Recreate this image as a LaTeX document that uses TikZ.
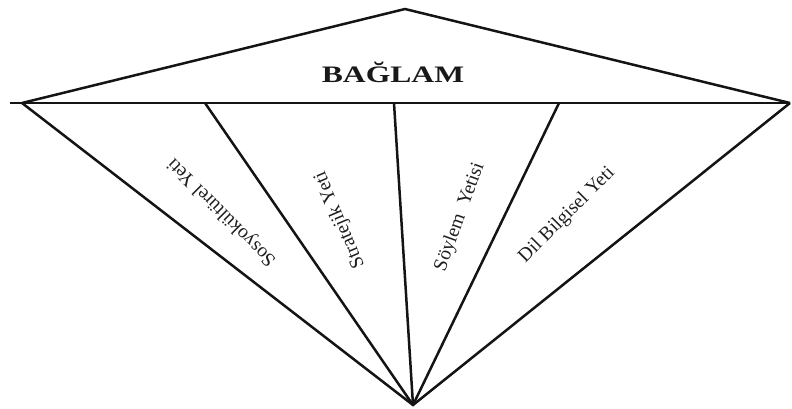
\documentclass[tikz,border=0pt]{standalone}
\usepackage{fontspec}
\setmainfont{Liberation Serif}
\begin{document}
\begin{tikzpicture}[x=1pt,y=-1pt,
  edge/.style={line width=2.5pt,line join=miter,line cap=butt,black!92},
  lbl/.style={inner sep=0pt,font=\fontsize{19.5}{20}\selectfont,text=black!88},
  title/.style={inner sep=0pt,font=\fontsize{23.6}{24}\selectfont\bfseries,text=black!90}]
\useasboundingbox (0,0) rectangle (792,409);
\coordinate (L0) at (10,103);
\coordinate (L) at (22,103);
\coordinate (R) at (790,103);
\coordinate (T) at (405,9);
\coordinate (B) at (413,405);
\coordinate (P1) at (205,103);
\coordinate (P2) at (394,103);
\coordinate (P3) at (559,103);
\draw[edge] (L0) -- (R);
\draw[edge] (L) -- (T) -- (R);
\draw[edge] (L) -- (B) -- (R);
\draw[edge] (P1) -- (B);
\draw[edge] (P2) -- (B);
\draw[edge] (P3) -- (B);
\node[title,anchor=base] (baglam) at (393,82.3) {\scalebox{1.34}[1]{BAĞLAM}};
\node[lbl,rotate=135] (sosyo) at (222,212) {Sosyokültürel Yeti};
\node[lbl,rotate=113] (strat) at (340,220) {Stratejik Yeti};
\node[lbl,rotate=70] (soylem) at (460,217) {Söylem\ \ Yetisi};
\node[lbl,rotate=45] (dil) at (567,215) {Dil Bilgisel Yeti};
\end{tikzpicture}
\end{document}
